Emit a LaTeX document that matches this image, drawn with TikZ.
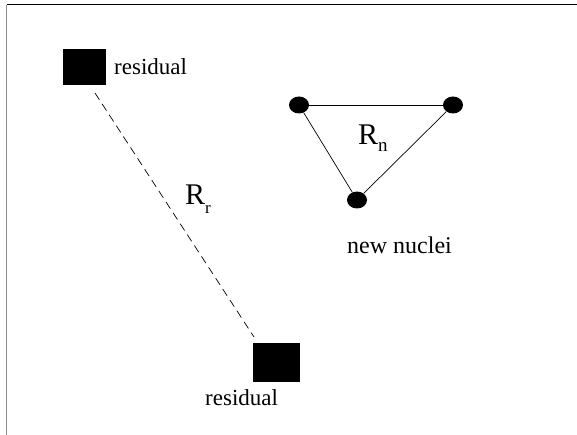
\documentclass[tikz,border=0pt]{standalone}
\usepackage{fontspec}
\setmainfont{Liberation Serif}
\usetikzlibrary{shapes.geometric}
\begin{document}
\begin{tikzpicture}[x=1pt,y=-1pt,
  sqbox/.style={fill=black,draw=none,inner sep=0pt,minimum width=#1},
  nucleus/.style={ellipse,fill=black,draw=none,inner sep=0pt,minimum width=20pt,minimum height=17pt},
  lbl/.style={anchor=base west,inner sep=0pt,font=\fontsize{23}{23}\selectfont},
  biglbl/.style={anchor=base west,inner sep=0pt,font=\fontsize{30}{30}\selectfont},
  link/.style={line width=0.7pt},
  dashlink/.style={line width=0.7pt,dash pattern=on 8pt off 5pt}]
\useasboundingbox (0,0) rectangle (577,435);
% frame
\coordinate (ftl) at (6.5,5);
\coordinate (fbl) at (6.5,435);
\coordinate (ftr) at (577,5);
\draw[gray!90,line width=1.5pt] (ftl) -- (fbl);
\draw[black,line width=1pt] (ftl) -- (ftr);
% residual squares
\node[sqbox,minimum width=43pt,minimum height=36pt] (sq1) at (84.5,67) {};
\node[sqbox,minimum width=47pt,minimum height=39pt] (sq2) at (276.5,362.5) {};
\node[lbl] (res1) at (114,75) {residual};
\node[lbl] (res2) at (205,405) {residual};
\draw[dashlink] ([shift={(10.5,26)}]sq1.center) -- ([shift={(-22.5,-25.5)}]sq2.center);
\node[biglbl] (rr) at (185,205) {R\raisebox{-9pt}{\fontsize{17}{17}\selectfont r}};
% nuclei
\node[nucleus] (n1) at (299,105) {};
\node[nucleus] (n2) at (453,105) {};
\node[nucleus] (n3) at (357,200) {};
\draw[link] (n1) -- (n2);
\draw[link] (n1) -- (n3);
\draw[link] (n2) -- (n3);
\node[biglbl] (rn) at (358,145) {R\raisebox{-7pt}{\fontsize{19}{19}\selectfont n}};
\node[lbl,font=\fontsize{24}{24}\selectfont] (nn) at (347,254) {new nuclei};
\end{tikzpicture}
\end{document}
